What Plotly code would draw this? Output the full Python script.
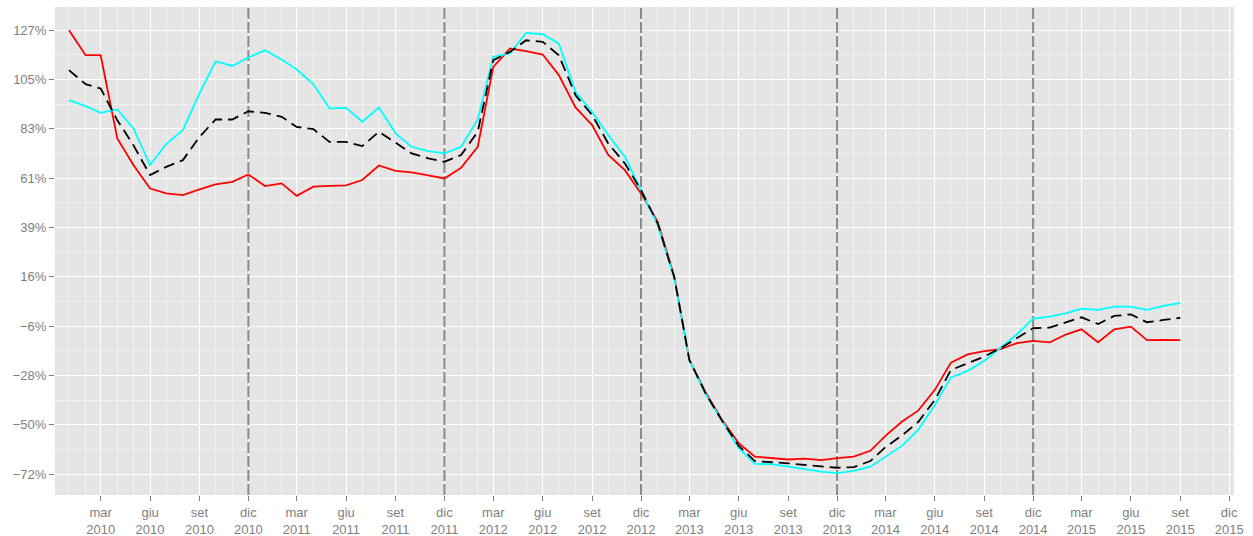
import pandas as pd
import plotly.graph_objects as go

# monthly series, Jan 2010 - Sep 2015 (values in %)
months = pd.date_range("2010-01-01", periods=69, freq="MS")

red_vals = [127.0, 115.8, 115.8, 78.5, 66.6, 56.1, 53.9, 53.1, 55.7, 57.9, 59.1, 62.4,
            57.2, 58.4, 52.8, 56.9, 57.3, 57.5, 59.9, 66.4, 64.0, 63.3, 62.0, 60.6,
            65.4, 74.8, 110.6, 118.8, 117.6, 116.1, 106.9, 92.4, 84.5, 71.1, 64.3, 53.9,
            41.2, 16.6, -20.7, -35.6, -47.6, -58.0, -64.0, -64.7, -65.3, -64.9, -65.6, -64.7,
            -64.0, -61.4, -54.7, -48.3, -43.4, -34.1, -21.9, -18.2, -16.8, -15.9, -13.2, -12.2,
            -12.8, -9.2, -7.0, -12.8, -7.0, -5.8, -11.8, -11.7, -11.8]

cyan_vals = [95.7, 93.0, 90.0, 91.5, 83.0, 66.6, 76.0, 82.2, 98.7, 113.1, 111.0, 114.8,
             118.0, 113.9, 109.4, 102.8, 92.0, 92.2, 86.0, 92.4, 80.8, 74.8, 72.8, 71.8,
             74.8, 87.0, 115.1, 116.6, 125.8, 125.2, 121.0, 99.4, 90.4, 80.0, 70.3, 55.4,
             39.7, 15.9, -20.7, -36.4, -48.3, -60.2, -67.3, -67.4, -68.5, -69.6, -70.7, -71.4,
             -70.4, -68.5, -64.0, -59.2, -52.0, -40.9, -28.5, -25.6, -21.2, -15.5, -9.2, -2.2,
             -1.3, 0.3, 2.3, 1.7, 3.2, 3.2, 1.7, 3.5, 4.9]

black_vals = [109.1, 102.8, 100.9, 86.7, 75.5, 62.1, 65.8, 68.8, 79.2, 87.0, 87.0, 90.7,
              90.0, 88.2, 83.7, 82.7, 77.0, 77.0, 75.1, 81.5, 76.6, 71.8, 69.6, 68.1,
              71.1, 81.5, 113.6, 117.3, 122.5, 121.8, 115.8, 97.9, 89.0, 76.3, 67.3, 55.4,
              40.5, 16.2, -20.7, -36.0, -48.0, -59.2, -66.0, -66.4, -67.0, -67.7, -68.5, -69.0,
              -68.7, -66.0, -59.8, -54.5, -48.5, -38.6, -25.2, -22.2, -19.2, -15.5, -11.0, -6.5,
              -6.2, -3.8, -1.6, -4.6, -1.0, -0.3, -3.8, -2.8, -1.8]

# axis ticks
x_tickvals = pd.date_range("2010-03-01", "2015-12-01", freq="3MS")
month_names = {3: "mar", 6: "giu", 9: "set", 12: "dic"}
x_ticktext = [f"{month_names[d.month]}<br>{d.year}" for d in x_tickvals]

y_tickvals = [127.0, 104.9, 82.8, 60.7, 38.6, 16.5, -5.6, -27.7, -49.8, -71.9]
y_ticktext = ["127%", "105%", "83%", "61%", "39%", "16%", "\u22126%", "\u221228%",
              "\u221250%", "\u221272%"]

dec_lines = ["2010-12-01", "2011-12-01", "2012-12-01", "2013-12-01", "2014-12-01"]

grey = "#7F7F7F"

fig = go.Figure()
for d in dec_lines:
    fig.add_scatter(x=[d, d], y=[-81.2, 137.4], mode="lines", hoverinfo="skip",
                    line=dict(color="#878C87", width=2, dash="11px,3px"))
fig.add_scatter(x=months, y=red_vals, mode="lines", line=dict(color="#FF0000", width=1.8))
fig.add_scatter(x=months, y=cyan_vals, mode="lines", line=dict(color="#00FFFF", width=1.8))
fig.add_scatter(x=months, y=black_vals, mode="lines",
                line=dict(color="#000000", width=1.8, dash="11px,6px"))

fig.update_layout(
    width=1253, height=536,
    margin=dict(l=55, r=19, t=7, b=41),
    paper_bgcolor="white", plot_bgcolor="#E5E5E5",
    showlegend=False,
    font=dict(family="Liberation Sans, Arial, sans-serif", size=13, color=grey),
)
fig.update_xaxes(
    range=["2009-12-06", "2015-12-10"], automargin=False,
    tickmode="array", tickvals=x_tickvals, ticktext=x_ticktext,
    ticks="outside", ticklen=5, tickcolor=grey, tickwidth=1,
    showgrid=True, gridcolor="white", gridwidth=1.2, zeroline=False, showline=False,
    minor=dict(tick0="2010-01-01", dtick="M1", showgrid=True, gridcolor="#F2F2F2",
               gridwidth=1, ticks=""),
)
fig.update_yaxes(
    range=[-81.2, 137.4], automargin=False,
    tickmode="array", tickvals=y_tickvals, ticktext=y_ticktext,
    ticks="outside", ticklen=5, tickcolor=grey, tickwidth=1,
    showgrid=True, gridcolor="white", gridwidth=1.2, zeroline=False, showline=False,
    minor=dict(tick0=115.95, dtick=22.1, showgrid=True, gridcolor="#F2F2F2",
               gridwidth=1, ticks=""),
)

# page body has a default 8px margin; remove it so the figure fills the window
fig.write_html("out.html", config={"displayModeBar": False},
               post_script="document.body.style.margin='0';")
